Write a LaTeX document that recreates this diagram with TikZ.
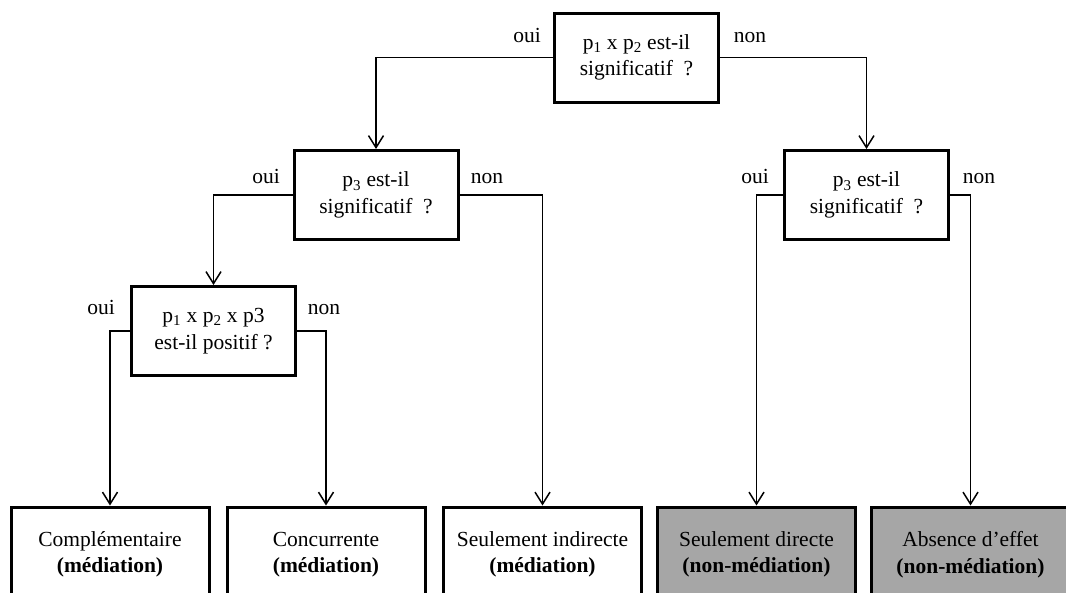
\documentclass[tikz,border=0pt]{standalone}
\usepackage{fontspec}
\setmainfont{Liberation Serif}
\usetikzlibrary{arrows.meta}
\definecolor{boxgrey}{RGB}{166,166,166}
\begin{document}
\begin{tikzpicture}[x=1pt,y=-1pt,
  font=\fontsize{21.5}{26.5}\selectfont,
  question/.style={draw, line width=3pt, fill=white, minimum width=164pt,
    minimum height=89pt, align=center, inner sep=0pt},
  outcome/.style={draw, line width=3pt, fill=white, minimum width=198pt,
    minimum height=95pt, align=center, inner sep=0pt},
  nonmed/.style={outcome, fill=boxgrey},
  flow/.style={line width=1.5pt,
    -{Straight Barb[length=12pt,width=15pt,line width=1.5pt]}},
  answer/.style={inner sep=0pt, anchor=base}
]
\clip (0,0) rectangle (1066,592);

% decision boxes
\node[question] (q1) at (636.5,57.5) {p\textsubscript{1} x p\textsubscript{2} est-il\\significatif~ ?};
\node[question] (q2) at (376,195) {p\textsubscript{3} est-il\\significatif~ ?};
\node[question] (q3) at (866.5,195) {p\textsubscript{3} est-il\\significatif~ ?};
\node[question] (q4) at (213.5,331) {p\textsubscript{1} x p\textsubscript{2} x p3\\est-il positif ?};

% outcome boxes
\node[outcome] (r1) at (110,554.5) {Complémentaire\\\textbf{(médiation)}};
\node[outcome] (r2) at (326,554.5) {Concurrente\\\textbf{(médiation)}};
\node[outcome] (r3) at (542.5,554.5) {Seulement indirecte\\\textbf{(médiation)}};
\node[nonmed] (r4) at (756.5,554.5) {Seulement directe\\\textbf{(non-médiation)}};
\node[nonmed] (r5) at (970.5,554.5) {Absence d’effet\\\textbf{(non-médiation)}};

% branches
\draw[flow] (q1.west) -| (q2.north);
\draw[flow] (q1.east) -| (q3.north);
\draw[flow] (q2.west) -| (q4.north);
\draw[flow] (q2.east) -| (r3.north);
\draw[flow] (q3.west) -| (r4.north);
\draw[flow] (q3.east) -| (r5.north);
\draw[flow] (q4.west) -| (r1.north);
\draw[flow] (q4.east) -| (r2.north);

% branch labels
\node[answer] (a1) at (527,42) {oui};
\node[answer] (a2) at (750,42) {non};
\node[answer] (a3) at (266,183) {oui};
\node[answer] (a4) at (487,183) {non};
\node[answer] (a5) at (755,183) {oui};
\node[answer] (a6) at (979,183) {non};
\node[answer] (a7) at (101,314) {oui};
\node[answer] (a8) at (324,314) {non};
\end{tikzpicture}
\end{document}
